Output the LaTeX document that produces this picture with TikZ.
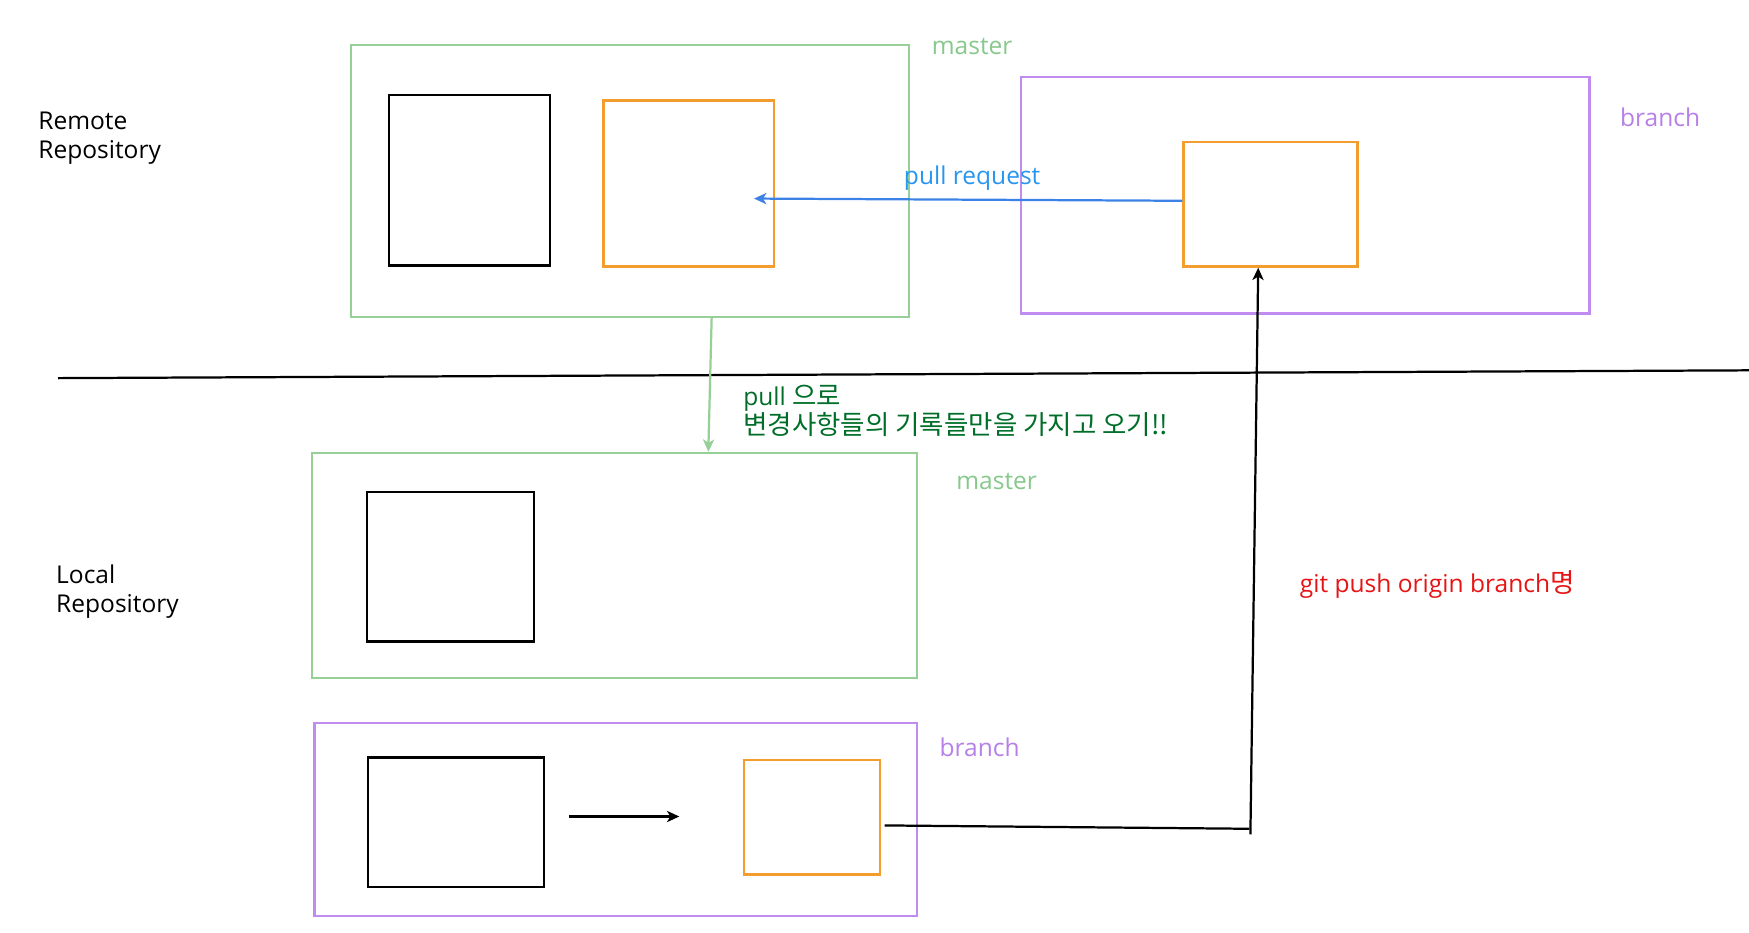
\documentclass[tikz,border=0pt]{standalone}
\usepackage{fontspec}
\setmainfont{Open Sans}
\newfontfamily\krfont[Scale=1.08]{Noto Sans CJK KR}
\usetikzlibrary{fit,arrows.meta}
\definecolor{gbox}{RGB}{150,208,150}
\definecolor{gtxt}{RGB}{135,200,140}
\definecolor{obox}{RGB}{242,157,45}
\definecolor{pbox}{RGB}{192,140,240}
\definecolor{ptxt}{RGB}{182,128,232}
\definecolor{barrow}{RGB}{60,130,230}
\definecolor{btxt}{RGB}{40,150,240}
\definecolor{dgreen}{RGB}{0,110,40}
\definecolor{rtxt}{RGB}{230,20,20}
\tikzset{
  box/.style={draw, inner sep=0pt, line width=1pt},
  greenbox/.style={box, draw=gbox},
  purplebox/.style={box, draw=pbox},
  orangebox/.style={box, draw=obox},
  blackbox/.style={box, draw=black},
  lbl/.style={anchor=west, inner sep=0pt, font=\fontsize{11}{13}\selectfont, align=left},
  tip/.style={-{Stealth[length=5.5pt,width=5pt,inset=1.5pt]}},
}
\begin{document}
\begin{tikzpicture}[x=0.5pt,y=-0.5pt]
\useasboundingbox (0,0) rectangle (1568,835.6);
% labels
\node[lbl] (remote) at (34,124) {Remote\\Repository};
\node[lbl] (local) at (50,530) {Local\\Repository};
% remote master
\node[greenbox, fit={(315,40)(815,284)}] (rm) {};
\node[blackbox, fit={(349,85)(493,238)}] (rmk) {};
\node[orangebox, fit={(541,90)(694,239)}] (rmo) {};
\node[lbl, text=gtxt] (rmlbl) at (835,42) {master};
% remote branch
\node[purplebox, fit={(915,69)(1425,281)}] (rb) {};
\node[orangebox, fit={(1061,127)(1217,239)}] (rbo) {};
\node[lbl, text=ptxt] (rblbl) at (1452,105) {branch};
% pull request
\coordinate (prend) at (676,178);
\draw[barrow, line width=1pt, tip] (rbo.west |- 0,180) -- (prend);
\node[lbl, text=btxt] (prlbl) at (810,160) {pull request};
% separator
\coordinate (sepL) at (52,339);
\coordinate (sepR) at (1568,332);
\draw[line width=1pt] (sepL) -- (sepR);
% local master
\node[greenbox, fit={(280,406)(822,608)}] (lm) {};
\node[blackbox, fit={(329,441)(479,575)}] (lmk) {};
\node[lbl, text=gtxt] (lmlbl) at (857,432) {master};
% pull arrow
\draw[gbox, line width=1pt, tip] (rm.south -| 638,0) -- (lm.north -| 635,0);
\node[lbl, text=dgreen] (pulltxt) at (666,368) {pull {\krfont 으로}\\{\krfont 변경사항들의 기록들만을 가지고 오기!!}};
% local branch
\node[purplebox, fit={(282,648)(822,821)}] (lb) {};
\node[blackbox, fit={(330,679)(488,795)}] (lbk) {};
\node[orangebox, fit={(667,681)(789,784)}] (lbo) {};
\node[lbl, text=ptxt] (lblbl) at (842,670) {branch};
\coordinate (ca) at (510,732);
\coordinate (cb) at (609,732);
\draw[line width=1pt, tip] (ca) -- (cb);
% push
\coordinate (pstart) at (793,740);
\coordinate (corner) at (1120,743);
\coordinate (vbot) at (1121,748);
\draw[line width=1pt] (pstart) -- (corner);
\draw[line width=1pt, tip] (vbot) -- (rbo.south -| 1128,0);
\node[lbl, text=rtxt] (pushlbl) at (1165,524) {git push origin branch{\krfont 명}};
\end{tikzpicture}
\end{document}
